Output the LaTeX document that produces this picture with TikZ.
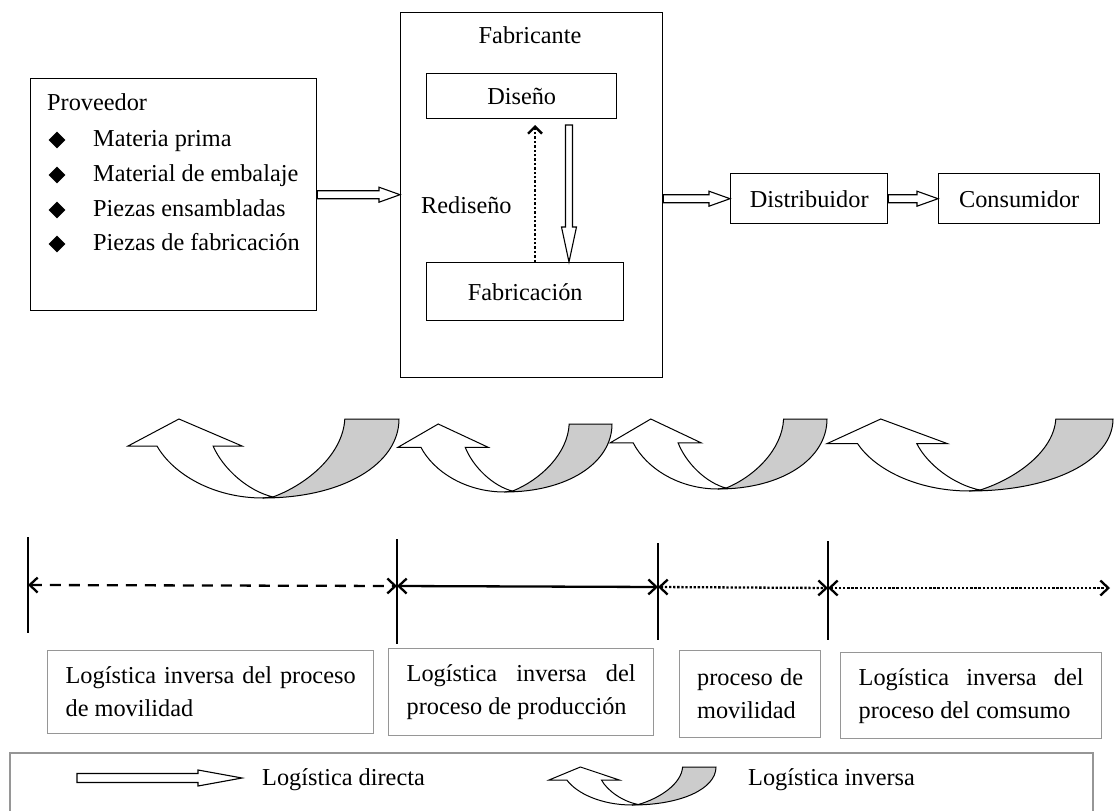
\documentclass[tikz,border=0pt]{standalone}
\usepackage{fontspec}
\setmainfont{Liberation Serif}
\usetikzlibrary{arrows.meta,shapes.geometric,calc}

\definecolor{bandgray}{RGB}{204,204,204}
\definecolor{framegray}{RGB}{150,150,150}

\tikzset{
  every node/.style={font=\fontsize{24.3}{33}\selectfont},
  box/.style={draw, line width=1.4pt, inner sep=0pt},
  lbl/.style={inner sep=0pt, anchor=base west},
  bul/.style={shape=diamond, fill=black, inner sep=0pt, minimum width=17pt, minimum height=17pt},
  lbox/.style={draw=framegray, line width=1.3pt, inner xsep=18pt, inner ysep=0pt,
    align=justify, anchor=north west,
    execute at begin node={\hyphenpenalty=10000\tolerance=10000\hbadness=10000\relax}},
  shaft/.style={draw, fill=white, line width=1.1pt, line join=miter},
  % hollow block arrow pointing right: half shaft, half head, head length
  blk/.style n args={3}{shaft, to path={let \p1=(\tikztostart), \p2=(\tikztotarget) in
    (\x1,\y1+#1) -- (\x2-#3,\y1+#1) -- (\x2-#3,\y1+#2) -- (\x2,\y1)
    -- (\x2-#3,\y1-#2) -- (\x2-#3,\y1-#1) -- (\x1,\y1-#1) -- cycle}},
  % hollow block arrow pointing down
  dblk/.style n args={3}{shaft, to path={let \p1=(\tikztostart), \p2=(\tikztotarget) in
    (\x1-#1,\y1) -- (\x1-#1,\y2+#3) -- (\x1-#2,\y2+#3) -- (\x1,\y2)
    -- (\x1+#2,\y2+#3) -- (\x1+#1,\y2+#3) -- (\x1+#1,\y1) -- cycle}},
  redo/.style={line width=2.4pt, dash pattern=on 2.4pt off 2pt,
    -{Straight Barb[length=7pt,width=14pt]}},
  seg/.style={line width=2.3pt,
    {Straight Barb[length=8pt,width=15pt]}-{Straight Barb[length=8pt,width=15pt]}},
  tick/.style={line width=1.3pt},
  frame/.style={draw=framegray, line width=1.3pt},
  % curved return arrow in a unit box (x right, y down)
  backarrow/.pic={
    \filldraw[fill=white, line width=1pt, line join=miter]
      (0.188,0) -- (0.421,0.342) -- (0.314,0.342)
      .. controls (0.351,0.633) and (0.443,0.911) .. (0.535,0.987)
      -- (0.498,1)
      .. controls (0.314,1) and (0.166,0.696) .. (0.107,0.342)
      -- (0,0.342) -- cycle;
    \filldraw[fill=bandgray, line width=1pt]
      (0.535,0.987) .. controls (0.664,0.823) and (0.793,0.443) .. (0.80,0)
      -- (1,0) .. controls (1,0.57) and (0.793,1) .. (0.498,1) -- cycle;
  }
}

\begin{document}
\begin{tikzpicture}[x=1pt,y=-1pt]
\useasboundingbox (0,0) rectangle (1114,811);

% supplier
\node[box, minimum width=286pt, minimum height=232pt, anchor=north west] (prov) at (30,78) {};
\node[lbl] (provT) at (47,110) {Proveedor};
\foreach \t/\b [count=\k] in {Materia prima/146, Material de embalaje/181,
    Piezas ensambladas/216, Piezas de fabricación/250} {
  \node[bul] (d\k) at (57,\b-6) {};
  \node[lbl] (i\k) at (93,\b) {\t};
}

% manufacturer
\node[box, minimum width=262pt, minimum height=365pt, anchor=north west] (fab) at (400,12) {};
\node[inner sep=0pt, anchor=base] (fabT) at (530,43) {Fabricante};
\node[box, minimum width=190pt, minimum height=45pt, anchor=north west] (dis) at (426,73) {Diseño};
\node[box, minimum width=197pt, minimum height=58pt, anchor=north west] (fabr) at (426,262) {Fabricación};
\node[lbl] (redT) at (421,213) {Rediseño};

% distribution chain
\node[box, minimum width=157pt, minimum height=50pt, anchor=north west] (dist) at (730,173) {Distribuidor};
\node[box, minimum width=161pt, minimum height=50pt, anchor=north west] (cons) at (938,173) {Consumidor};

% forward flow
\draw[blk={4pt}{7.5pt}{21pt}] (prov.east) to (prov.east -| fab.west);
\draw[blk={4pt}{7.5pt}{21pt}] (fab.east |- dist.west) to (dist.west);
\draw[blk={4pt}{7.5pt}{21pt}] (dist.east) to (cons.west);
\coordinate (dn) at (569,125);
\draw[dblk={3.5pt}{7.5pt}{35pt}] (dn) to (dn |- fabr.north);
\coordinate (up) at (535,125);
\draw[redo] (up |- fabr.north) -- (up);

% reverse flows
\pic[xscale=271,yscale=79] (ra1) at (128,419) {backarrow};
\pic[xscale=214,yscale=68] (ra2) at (398,424) {backarrow};
\pic[xscale=217,yscale=70] (ra3) at (610,419) {backarrow};
\pic[xscale=286,yscale=72] (ra4) at (827,419) {backarrow};

% stage axis
\coordinate (m1) at (28,585);
\coordinate (m2) at (397,586);
\coordinate (m3) at (658,587);
\coordinate (m4) at (828,588);
\coordinate (m5) at (1110,588);
\coordinate (k1a) at (28,537);  \coordinate (k1b) at (28,633);
\coordinate (k2a) at (397,539); \coordinate (k2b) at (397,644);
\coordinate (k3a) at (658,543); \coordinate (k3b) at (658,640);
\coordinate (k4a) at (828,541); \coordinate (k4b) at (828,640);
\draw[tick] (k1a) -- (k1b);
\draw[tick] (k2a) -- (k2b);
\draw[tick] (k3a) -- (k3b);
\draw[tick] (k4a) -- (k4b);
\draw[seg, dash pattern=on 11pt off 8pt] (m1) -- (m2);
\draw[seg] (m2) -- (m3);
\draw[seg, dash pattern=on 2.3pt off 1.8pt] (m3) -- (m4);
\draw[seg, dash pattern=on 2.3pt off 1.8pt] (m4) -- (m5);

% stage labels
\node[lbox, text width=290pt, minimum height=83pt] (b1) at (47,650) {Logística inversa del proceso de movilidad};
\node[lbox, text width=229pt, minimum height=87pt] (b2) at (388,648) {Logística inversa del proceso de producción};
\node[lbox, text width=106pt, inner xsep=17.5pt, minimum height=87pt] (b3) at (679,650) {proceso de movilidad};
\node[lbox, text width=225pt, minimum height=86pt] (b4) at (840,652) {Logística inversa del proceso del comsumo};

% legend
\coordinate (g1) at (10,811);
\coordinate (g2) at (10,753);
\coordinate (g3) at (1093,753);
\coordinate (g4) at (1093,811);
\draw[frame] (g1) -- (g2) -- (g3) -- (g4);
\coordinate (la1) at (77,778);
\coordinate (la2) at (242,778);
\draw[blk={4.5pt}{8pt}{44pt}] (la1) to (la2);
\node[lbl] (ld) at (262,785) {Logística directa};
\pic[xscale=167,yscale=38] (lr) at (549,767) {backarrow};
\node[lbl] (li) at (748,785) {Logística inversa};
\end{tikzpicture}
\end{document}
